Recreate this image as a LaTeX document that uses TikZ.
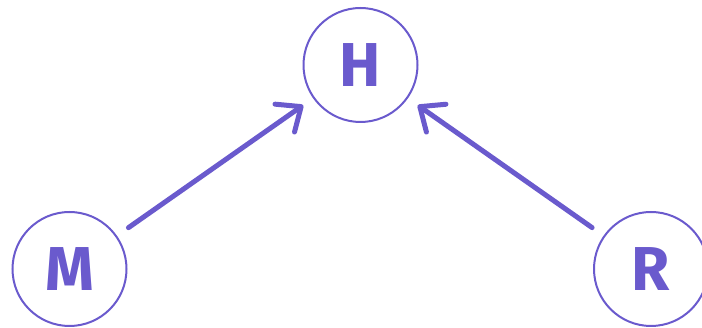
\documentclass[tikz,border=0pt]{standalone}
\usepackage{fontspec}
\setsansfont{Fira Sans}
\usetikzlibrary{arrows.meta}
\definecolor{vio}{RGB}{106,90,205}
\begin{document}
\begin{tikzpicture}[x=1pt,y=1pt,
  var/.style={circle,draw=vio,line width=2pt,minimum size=114pt,inner sep=0pt,
    text=vio,font=\sffamily\bfseries\fontsize{62}{62}\selectfont},
  edge/.style={draw=vio,line width=5pt,line cap=round,
    -{Straight Barb[length=20pt,width=34pt,line cap=round,line join=round]},
    shorten <=14pt,shorten >=12pt}]
\useasboundingbox (0,0) rectangle (702,328);
\node[var] (H) at (360.5,263) {H};
\node[var] (M) at (69.5,59) {M};
\node[var] (R) at (651,59) {R};
\draw[edge] (M) -- (H);
\draw[edge] (R) -- (H);
\end{tikzpicture}
\end{document}
